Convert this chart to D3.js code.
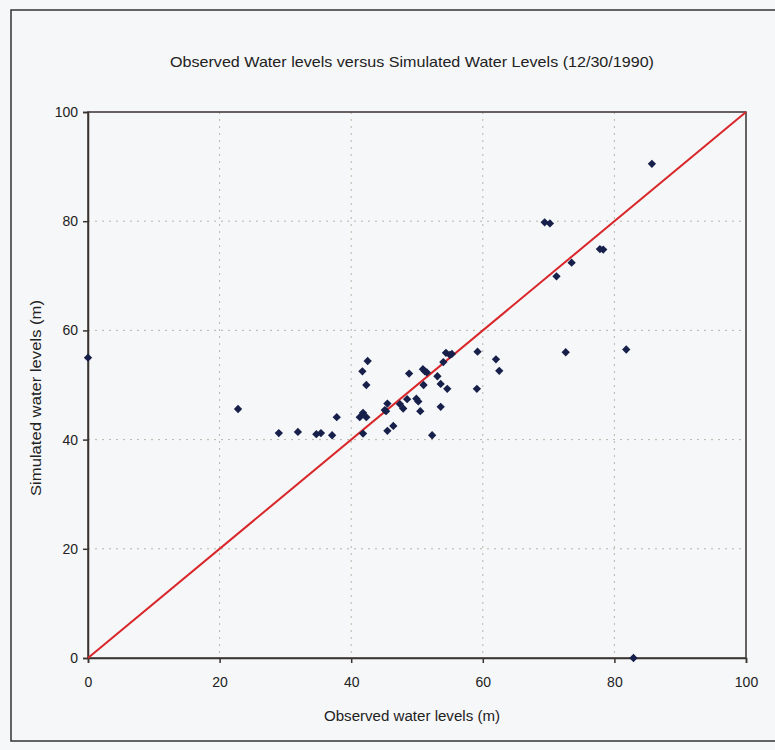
<!DOCTYPE html>
<html>
<head>
<meta charset="utf-8">
<script src="https://cdn.jsdelivr.net/npm/d3@7"></script>
<style>
  body { margin: 0; background: #f6f7f9; }
  text { font-family: "Liberation Sans", Arial, sans-serif; fill: #222; }
</style>
</head>
<body>
<div id="chart"></div>
<script>
// observed vs simulated water levels (m)
let observed = [0, 22.8, 29.0, 31.9, 34.7, 35.4, 37.1, 37.8, 42.5, 41.7, 42.3, 41.3, 41.8, 42.3, 41.8,
  45.1, 45.5, 45.3, 45.5, 46.4, 47.4, 47.9, 48.5, 48.8, 49.9, 50.2, 50.5, 51.0, 50.9, 51.2, 51.5,
  52.3, 53.1, 53.6, 53.6, 54.0, 54.4, 55.0, 55.3, 54.6, 59.2, 59.1, 62.0, 62.5, 72.6, 69.4, 70.2,
  77.8, 78.3, 73.5, 71.2, 85.7, 81.8, 82.9];
let simulated = [55, 45.6, 41.2, 41.4, 41.0, 41.2, 40.8, 44.1, 54.4, 52.5, 50.0, 44.1, 44.9, 44.1, 41.1,
  45.4, 46.6, 45.2, 41.6, 42.5, 46.5, 45.7, 47.4, 52.1, 47.5, 47.0, 45.2, 50.0, 52.9, 52.5, 52.3,
  40.8, 51.6, 50.2, 46.0, 54.2, 55.9, 55.5, 55.7, 49.3, 56.1, 49.3, 54.7, 52.6, 56.0, 79.8, 79.6,
  74.9, 74.8, 72.4, 69.9, 90.5, 56.5, 0];
let tickValues = [0, 20, 40, 60, 80, 100];
let gridValues = [20, 40, 60, 80];
let lineEnds = [0, 100];

let titleText = "Observed Water levels versus Simulated Water Levels (12/30/1990)";
let xLabel = "Observed water levels (m)";
let yLabel = "Simulated water levels (m)";

let points = observed.map((d, i) => ({ x: d, y: simulated[i] }));

var W = 775, H = 750;
var margin = {top: 112, right: 29, bottom: 92, left: 88},
    width = W - margin.left - margin.right,
    height = H - margin.top - margin.bottom;

var svg = d3.select("#chart").append("svg")
    .attr("width", W)
    .attr("height", H);

// outer frame
svg.append("rect")
    .attr("x", 11).attr("y", 10)
    .attr("width", 790).attr("height", 731)
    .attr("fill", "none")
    .attr("stroke", "#333")
    .attr("stroke-width", 1.5);

svg.append("text")
    .attr("x", 412).attr("y", 67)
    .attr("text-anchor", "middle")
    .attr("textLength", 484)
    .attr("lengthAdjust", "spacingAndGlyphs")
    .style("font-size", "15px")
    .text(titleText);

var g = svg.append("g")
    .attr("transform", "translate(" + margin.left + "," + margin.top + ")");

var x = d3.scaleLinear().domain([0, 100]).range([0, width]);
var y = d3.scaleLinear().domain([0, 100]).range([height, 0]);

// grid
g.append("g").selectAll("line.vg")
    .data(gridValues).enter().append("line")
    .attr("x1", d => x(d)).attr("x2", d => x(d))
    .attr("y1", 0).attr("y2", height)
    .attr("stroke", "#b8b4a8")
    .attr("stroke-dasharray", "2,5");
g.append("g").selectAll("line.hg")
    .data(gridValues).enter().append("line")
    .attr("x1", 0).attr("x2", width)
    .attr("y1", d => y(d)).attr("y2", d => y(d))
    .attr("stroke", "#b8b4a8")
    .attr("stroke-dasharray", "2,5");

// plot box
g.append("rect")
    .attr("width", width).attr("height", height)
    .attr("fill", "none")
    .attr("stroke", "#3a3330")
    .attr("stroke-width", 1.5);

var xAxis = g.append("g")
    .attr("transform", "translate(0," + height + ")")
    .call(d3.axisBottom(x).tickValues(tickValues).tickSize(5).tickPadding(14));
var yAxis = g.append("g")
    .call(d3.axisLeft(y).tickValues(tickValues).tickSize(5).tickPadding(5));
[xAxis, yAxis].forEach(a => {
  a.select(".domain").attr("stroke", "#3a3330").attr("stroke-width", 1.5);
  a.selectAll(".tick line").attr("stroke", "#3a3330").attr("stroke-width", 1.5);
  a.selectAll(".tick text")
    .style("font-family", "Liberation Sans, Arial, sans-serif")
    .style("font-size", "14px")
    .attr("fill", "#222");
});

// 1:1 line
g.append("line")
    .attr("x1", x(lineEnds[0])).attr("y1", y(lineEnds[0]))
    .attr("x2", x(lineEnds[1])).attr("y2", y(lineEnds[1]))
    .attr("stroke", "#d8262a")
    .attr("stroke-width", 2);

// diamonds
g.append("g").selectAll("path")
    .data(points).enter().append("path")
    .attr("transform", d => "translate(" + x(d.x) + "," + y(d.y) + ")")
    .attr("d", d3.symbol().type(d3.symbolDiamond2).size(44))
    .attr("fill", "#17204a");

svg.append("text")
    .attr("x", 412).attr("y", 721)
    .attr("text-anchor", "middle")
    .attr("textLength", 176)
    .attr("lengthAdjust", "spacingAndGlyphs")
    .style("font-size", "14px")
    .text(xLabel);

svg.append("text")
    .attr("transform", "translate(41,398) rotate(-90)")
    .attr("text-anchor", "middle")
    .attr("textLength", 196)
    .attr("lengthAdjust", "spacingAndGlyphs")
    .style("font-size", "14px")
    .text(yLabel);
</script>
</body>
</html>
